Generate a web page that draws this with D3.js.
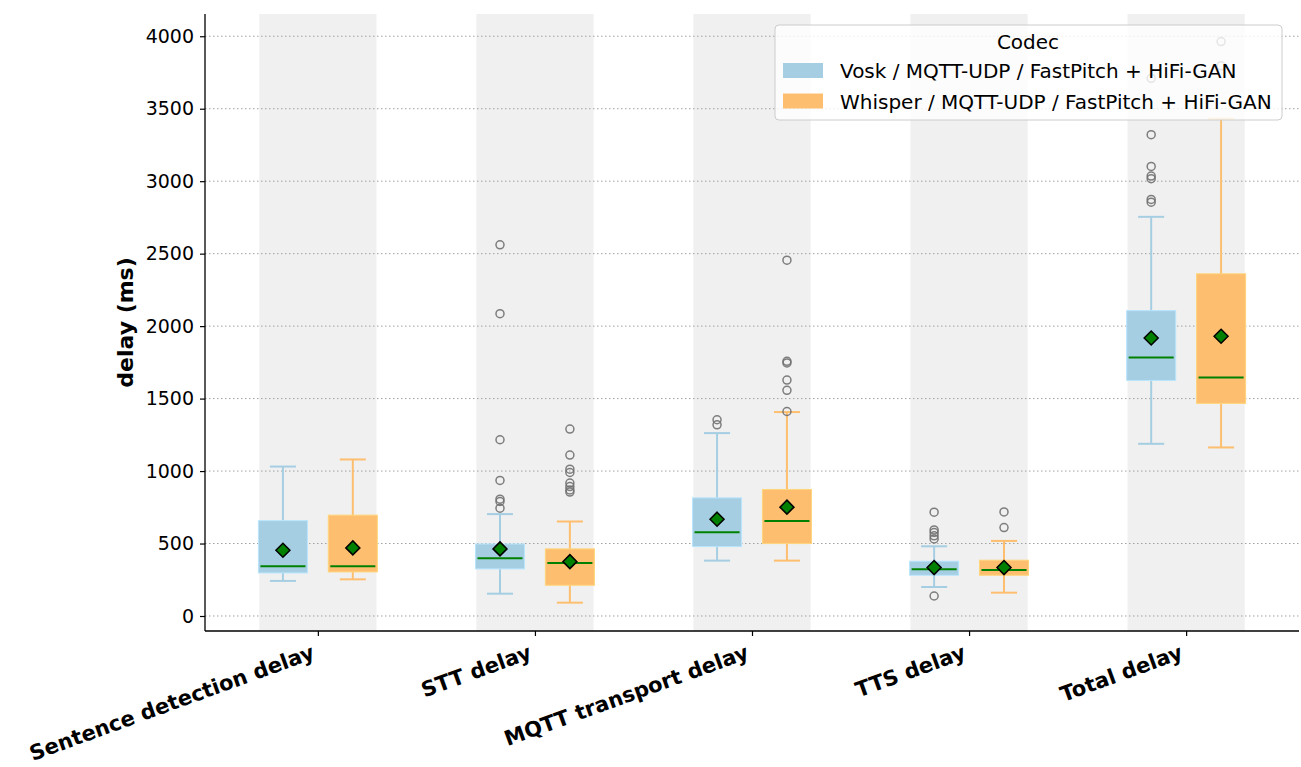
<!DOCTYPE html>
<html>
<head>
<meta charset="utf-8">
<script src="https://cdn.jsdelivr.net/npm/d3@7/dist/d3.min.js"></script>
<style>
  html, body { margin: 0; padding: 0; background: #ffffff; }
  svg { display: block; font-family: "DejaVu Sans", sans-serif; }
</style>
</head>
<body>
<svg id="chart" width="1301" height="767"></svg>
<script>
// Delay stages on the x axis
const categories = ["Sentence detection delay", "STT delay", "MQTT transport delay", "TTS delay", "Total delay"];
const seriesNames = ["Vosk / MQTT-UDP / FastPitch + HiFi-GAN", "Whisper / MQTT-UDP / FastPitch + HiFi-GAN"];
const seriesColors = ["#a6cee3", "#fdbf6f"];

// Box statistics per stage (ms)
const voskLow      = [242, 154, 382, 200, 1188];
const voskQ1       = [297, 325, 479, 281, 1625];
const voskMedian   = [343, 399, 578, 322, 1784];
const voskQ3       = [658, 497, 815, 378, 2107];
const voskHigh     = [1031, 703, 1262, 481, 2754];
const voskMean     = [454, 463, 668, 334, 1918];
const voskOutliers = [[], [2561, 2086, 1216, 935, 806, 790, 744], [1354, 1319],
                      [716, 594, 576, 553, 532, 138], [3710, 3321, 3102, 3035, 3017, 2874, 2855]];

const whisperLow      = [253, 92, 382, 161, 1163];
const whisperQ1       = [304, 212, 500, 281, 1467];
const whisperMedian   = [343, 366, 656, 318, 1646];
const whisperQ3       = [696, 463, 873, 385, 2361];
const whisperHigh     = [1080, 652, 1407, 518, 3431];
const whisperMean     = [470, 375, 751, 334, 1930];
const whisperOutliers = [[], [1290, 1110, 1013, 990, 917, 893, 870, 855], [2455, 1757, 1746, 1628, 1557, 1411],
                         [718, 610], [3963, 3796]];

const yTicks = [0, 500, 1000, 1500, 2000, 2500, 3000, 3500, 4000];

const series = [
  { low: voskLow, q1: voskQ1, med: voskMedian, q3: voskQ3, high: voskHigh, mean: voskMean, out: voskOutliers },
  { low: whisperLow, q1: whisperQ1, med: whisperMedian, q3: whisperQ3, high: whisperHigh, mean: whisperMean, out: whisperOutliers }
];

const svg = d3.select("#chart");
const plot = { left: 205, right: 1299, top: 14, bottom: 631 };

const x = d3.scaleLinear().domain([-0.52, categories.length - 1 + 0.52]).range([plot.left, plot.right]);
const y = d3.scaleLinear().domain([-103.5, 4153.5]).range([plot.bottom, plot.top]);

const bandHalf = 0.27;      // shaded column half-width (category units)
const dodge = 0.161;        // offset of each series from category centre
const boxHalf = 0.113;      // half box width
const capHalf = 0.06;       // half whisker-cap width

// shaded columns behind each category
svg.append("g").selectAll("rect").data(categories).join("rect")
  .attr("x", (d, i) => x(i - bandHalf))
  .attr("width", (d, i) => x(i + bandHalf) - x(i - bandHalf))
  .attr("y", plot.top)
  .attr("height", plot.bottom - plot.top)
  .attr("fill", "#f0f0f0");

// dotted horizontal grid
svg.append("g").selectAll("line").data(yTicks).join("line")
  .attr("x1", plot.left).attr("x2", plot.right)
  .attr("y1", d => y(d)).attr("y2", d => y(d))
  .attr("stroke", "#a0a0a0")
  .attr("stroke-width", 1)
  .attr("stroke-dasharray", "1.5,2.5");

// boxes
series.forEach((s, si) => {
  const color = seriesColors[si];
  const off = si === 0 ? -dodge : dodge;
  const g = svg.append("g");
  categories.forEach((c, i) => {
    const cx = i + off;
    // whiskers
    g.append("line")
      .attr("x1", x(cx)).attr("x2", x(cx))
      .attr("y1", y(s.q3[i])).attr("y2", y(s.high[i]))
      .attr("stroke", color).attr("stroke-width", 2);
    g.append("line")
      .attr("x1", x(cx)).attr("x2", x(cx))
      .attr("y1", y(s.q1[i])).attr("y2", y(s.low[i]))
      .attr("stroke", color).attr("stroke-width", 2);
    // caps
    [s.high[i], s.low[i]].forEach(v => {
      g.append("line")
        .attr("x1", x(cx - capHalf)).attr("x2", x(cx + capHalf))
        .attr("y1", y(v)).attr("y2", y(v))
        .attr("stroke", color).attr("stroke-width", 2);
    });
    // box
    g.append("rect")
      .attr("x", x(cx - boxHalf))
      .attr("width", x(cx + boxHalf) - x(cx - boxHalf))
      .attr("y", y(s.q3[i]))
      .attr("height", y(s.q1[i]) - y(s.q3[i]))
      .attr("fill", color)
      .attr("stroke", d3.color(color).brighter(0.3))
      .attr("stroke-width", 1);
    // median
    g.append("line")
      .attr("x1", x(cx - boxHalf) + 2).attr("x2", x(cx + boxHalf) - 2)
      .attr("y1", y(s.med[i])).attr("y2", y(s.med[i]))
      .attr("stroke", "#008000").attr("stroke-width", 2);
    // outliers
    g.selectAll(null).data(s.out[i]).join("circle")
      .attr("cx", x(cx)).attr("cy", d => y(d))
      .attr("r", 4)
      .attr("fill", "none")
      .attr("stroke", "#707070")
      .attr("stroke-opacity", 0.9)
      .attr("stroke-width", 1.5);
    // mean marker
    const mx = x(cx), my = y(s.mean[i]), r = 7;
    g.append("path")
      .attr("d", `M${mx},${my - r}L${mx + r},${my}L${mx},${my + r}L${mx - r},${my}Z`)
      .attr("fill", "#008000")
      .attr("stroke", "#000")
      .attr("stroke-width", 1.5);
  });
});

// y axis
const yAxis = svg.append("g").attr("transform", `translate(${plot.left},0)`)
  .call(d3.axisLeft(y).tickValues(yTicks).tickSize(5).tickPadding(6).tickFormat(d3.format("d")));
yAxis.select(".domain").attr("d", `M0,${plot.top}V${plot.bottom}`).attr("stroke", "#000").attr("stroke-width", 1.3);
yAxis.selectAll(".tick line").attr("stroke", "#000").attr("stroke-width", 1.2);
yAxis.selectAll(".tick text").attr("font-size", 19).attr("fill", "#000").attr("font-family", "DejaVu Sans");

// x axis
const xAxis = svg.append("g").attr("transform", `translate(0,${plot.bottom})`)
  .call(d3.axisBottom(x).tickValues(d3.range(categories.length)).tickSize(5).tickFormat(() => ""));
xAxis.select(".domain").attr("d", `M${plot.left},0H${plot.right}`).attr("stroke", "#000").attr("stroke-width", 1.3);
xAxis.selectAll(".tick line").attr("stroke", "#000").attr("stroke-width", 1.2);

// rotated category labels
svg.append("g").selectAll("text").data(categories).join("text")
  .attr("transform", (d, i) => `translate(${x(i) - 2},${plot.bottom + 27}) rotate(-20)`)
  .attr("text-anchor", "end")
  .attr("font-size", 21)
  .attr("font-weight", "bold")
  .attr("fill", "#000")
  .text(d => d);

// y label
svg.append("text")
  .attr("transform", `translate(133,${(plot.top + plot.bottom) / 2}) rotate(-90)`)
  .attr("text-anchor", "middle")
  .attr("font-size", 22)
  .attr("font-weight", "bold")
  .attr("fill", "#000")
  .text("delay (ms)");

// legend
const legend = svg.append("g");
legend.append("rect")
  .attr("x", 775).attr("y", 25).attr("width", 507).attr("height", 95)
  .attr("rx", 4)
  .attr("fill", "#ffffff").attr("fill-opacity", 0.8)
  .attr("stroke", "#cccccc").attr("stroke-width", 1);
legend.append("text")
  .attr("x", 1028).attr("y", 49)
  .attr("text-anchor", "middle")
  .attr("font-size", 20)
  .attr("fill", "#000")
  .text("Codec");
seriesNames.forEach((name, i) => {
  legend.append("rect")
    .attr("x", 783).attr("y", 63 + i * 30.5).attr("width", 40).attr("height", 15)
    .attr("fill", seriesColors[i]);
  legend.append("text")
    .attr("x", 840).attr("y", 78 + i * 30.5)
    .attr("font-size", 20)
    .attr("fill", "#000")
    .text(name);
});
</script>
</body>
</html>
